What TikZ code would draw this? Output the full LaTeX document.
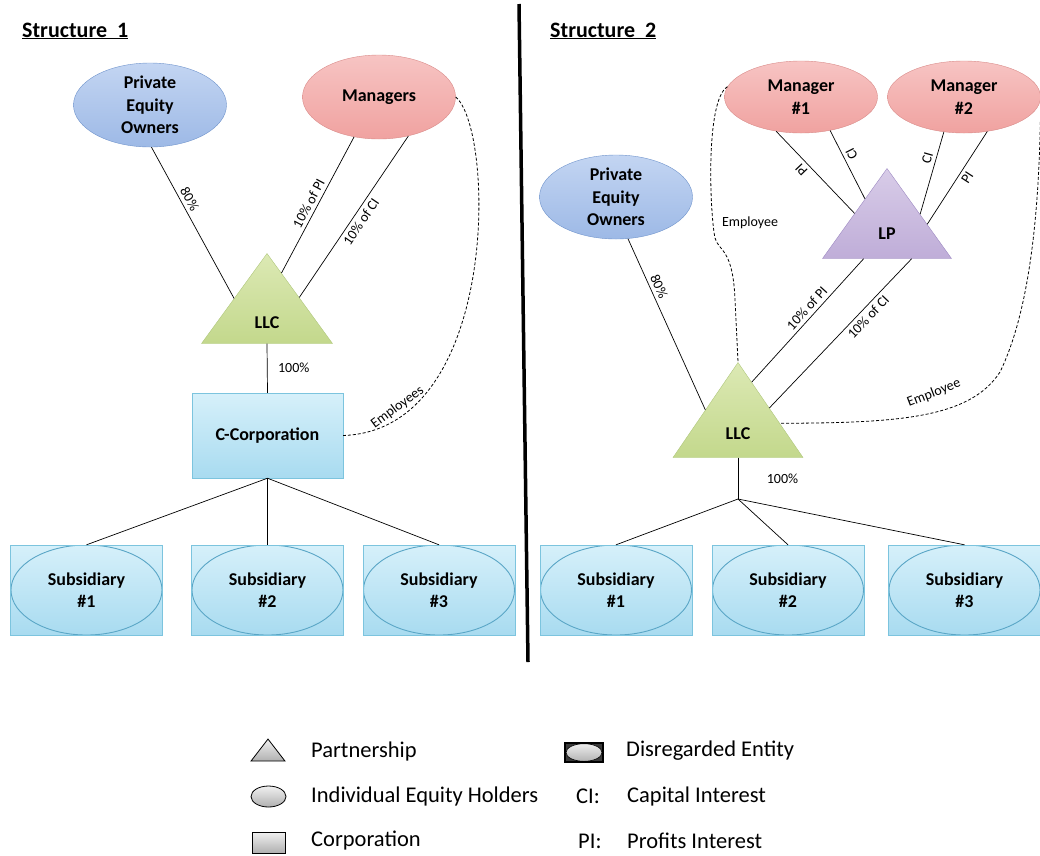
\documentclass[tikz,border=0pt]{standalone}
\usepackage{fontspec}
\setmainfont{Carlito}
\usetikzlibrary{shapes.geometric,positioning,calc}
\definecolor{peoTop}{HTML}{C3D5F2}
\definecolor{peoBot}{HTML}{9DB9E6}
\definecolor{peoLine}{HTML}{7094CC}
\definecolor{mgrTop}{HTML}{F7C4C3}
\definecolor{mgrBot}{HTML}{F0A2A0}
\definecolor{mgrLine}{HTML}{D98C8A}
\definecolor{llcTop}{HTML}{DCE9B4}
\definecolor{llcBot}{HTML}{C3D88C}
\definecolor{llcLine}{HTML}{AFC77C}
\definecolor{lpTop}{HTML}{D8CCE8}
\definecolor{lpBot}{HTML}{BFADD8}
\definecolor{lpLine}{HTML}{9D89C2}
\definecolor{corpTop}{HTML}{D6F0FA}
\definecolor{corpBot}{HTML}{A8DBF0}
\definecolor{corpLine}{HTML}{7CC4DE}
\definecolor{subLine}{HTML}{5AA6C6}
\definecolor{keyTop}{HTML}{F0F0F0}
\definecolor{keyBot}{HTML}{B0B0B0}
\definecolor{keyDark}{HTML}{3A3A3A}
\tikzset{
  holder/.style={ellipse, draw, minimum width=153pt, minimum height=84pt, inner sep=0pt,
    align=center, font=\bfseries\fontsize{18}{22.5}\selectfont},
  peo/.style={holder, draw=peoLine, top color=peoTop, bottom color=peoBot},
  mgr/.style={holder, draw=mgrLine, top color=mgrTop, bottom color=mgrBot},
  partner/.style={isosceles triangle, isosceles triangle stretches, shape border rotate=90,
    minimum width=131pt, minimum height=90pt, inner sep=0pt},
  llc/.style={partner, draw=llcLine, top color=llcTop, bottom color=llcBot},
  lpfill/.style={partner, draw=lpLine, top color=lpTop, bottom color=lpBot},
  partname/.style={font=\bfseries\fontsize{18}{22}\selectfont, inner sep=0pt},
  corp/.style={rectangle, draw=corpLine, top color=corpTop, bottom color=corpBot,
    minimum width=151pt, minimum height=85pt, inner sep=0pt, align=center,
    font=\bfseries\fontsize{18}{22.5}\selectfont},
  disregarded/.style={corp, minimum width=152pt, minimum height=90pt,
    path picture={\draw[subLine, line width=0.9pt] (path picture bounding box.center) ellipse (75.5pt and 45pt);}},
  link/.style={line width=0.7pt},
  employ/.style={line width=0.8pt, dashed, dash pattern=on 3pt off 2pt},
  lbl/.style={font=\fontsize{14}{16}\selectfont, inner sep=3.5pt},
  title/.style={font=\bfseries\fontsize{22}{25}\selectfont, inner sep=0pt, anchor=base west},
  keytext/.style={font=\fontsize{22.5}{26}\selectfont, inner sep=0pt, anchor=west},
  keyshape/.style={draw=black, line width=0.8pt, top color=keyTop, bottom color=keyBot, inner sep=0pt},
}

\begin{document}
\begin{tikzpicture}[x=1pt, y=-1pt]
  \useasboundingbox (0,0) rectangle (1040,855);

  % headings and divider
  \node[title] (titleA) at (22,37) {\underline{Structure\ \ 1}};
  \node[title] (titleB) at (550,37) {\underline{Structure\ \ 2}};
  \coordinate (divtop) at (519,4);
  \coordinate (divbot) at (528,662);
  \draw[line width=3.5pt] (divtop) -- (divbot);

  % Structure 1
  \node[peo] (peoA) at (150,105) {Private\\Equity\\Owners};
  \node[mgr] (mgrA) at (379,97) {Managers};
  \node[llc, anchor=apex] (llcA) at (267,253) {};
  \node[partname] (llcAname) at ($(llcA.apex)!0.77!(llcA.lower side)$) {LLC};
  \node[corp] (ccorp) at (267.5,435.5) {C-Corporation};
  \node[disregarded] (subA1) at (86.5,590) {Subsidiary\\\#1};
  \node[disregarded] (subA2) at (267.5,590) {Subsidiary\\\#2};
  \node[disregarded] (subA3) at (439,590) {Subsidiary\\\#3};

  \draw[link] (peoA.-88) -- node[lbl, sloped, above, pos=.37] {80\%} ($(llcA.apex)!.5!(llcA.left corner)$);
  \draw[link] (mgrA.-122) -- node[lbl, sloped, above, pos=.52] {10\% of PI} ($(llcA.apex)!.22!(llcA.right corner)$);
  \draw[link] (mgrA.-53) -- node[lbl, sloped, below, pos=.5] {10\% of CI} ($(llcA.apex)!.49!(llcA.right corner)$);
  \draw[link] (llcA.lower side) -- node[lbl, right=7pt] {100\%} (ccorp.north);
  \draw[employ] (mgrA.east) .. controls (495,130) and (500,430) .. node[lbl, sloped, above, pos=.85] {Employees} (ccorp.east);
  \foreach \s in {subA1,subA2,subA3}
    \draw[link] (ccorp.south) -- (\s.north);

  % Structure 2
  \node[peo] (peoB) at (616,197) {Private\\Equity\\Owners};
  \node[mgr, minimum height=72pt] (mgrB1) at (801,97) {Manager\\\#1};
  \node[mgr, minimum height=72pt] (mgrB2) at (964,97) {Manager\\\#2};
  \node[lpfill, minimum width=129pt, anchor=apex] (lp) at (887,168) {};
  \node[partname] (lpname) at ($(lp.apex)!0.72!(lp.lower side)$) {LP};
  \node[llc, minimum height=95pt, minimum width=130pt, anchor=apex] (llcB) at (738,362) {};
  \node[partname] (llcBname) at ($(llcB.apex)!0.75!(llcB.lower side)$) {LLC};
  \coordinate (hubB) at (738,499);
  \node[disregarded] (subB1) at (616,590) {Subsidiary\\\#1};
  \node[disregarded] (subB2) at (788,590) {Subsidiary\\\#2};
  \node[disregarded] (subB3) at (964.5,590) {Subsidiary\\\#3};

  \draw[link] ($(lp.apex)!.5!(lp.left corner)$) -- node[lbl, sloped, allow upside down, above, pos=.6] {PI} (mgrB1.-126);
  \draw[link] ($(lp.apex)!.34!(lp.left corner)$) -- node[lbl, sloped, allow upside down, below, pos=.6] {CI} (mgrB1.-49);
  \draw[link] (mgrB2.-120) -- node[lbl, sloped, above, pos=.35] {CI} ($(lp.apex)!.51!(lp.right corner)$);
  \draw[link] (mgrB2.-56) -- node[lbl, sloped, below, pos=.45] {PI} ($(lp.apex)!.62!(lp.right corner)$);
  \draw[link] (peoB.-74) -- node[lbl, sloped, above, pos=.3] {80\%} ($(llcB.apex)!.5!(llcB.left corner)$);
  \draw[link] ($(lp.left corner)!.32!(lp.right corner)$) -- node[lbl, sloped, above, pos=.45] {10\% of PI} ($(llcB.apex)!.21!(llcB.right corner)$);
  \draw[link] ($(lp.left corner)!.69!(lp.right corner)$) -- node[lbl, sloped, below, pos=.35] {10\% of CI} ($(llcB.apex)!.48!(llcB.right corner)$);
  \draw[employ] (mgrB1.172) .. controls (705,100) and (710,215) .. (715,238)
    .. controls (719,252) and (733,248) .. (735,300) -- (llcB.apex);
  \node[lbl] (empB1) at (750,223) {Employee};
  \draw[employ] (mgrB2.east) .. controls (1040,180) and (1035,300) .. (1000,372)
    .. controls (970,418) and (900,423) .. ($(llcB.apex)!.64!(llcB.right corner)$);
  \node[lbl, rotate=21] (empB2) at (934,393) {Employee};
  \draw[link] (llcB.lower side) -- node[lbl, right=25pt] {100\%} (hubB);
  \foreach \s in {subB1,subB2,subB3}
    \draw[link] (hubB) -- (\s.north);

  % key
  \node[keyshape, isosceles triangle, isosceles triangle stretches, shape border rotate=90,
    minimum width=34pt, minimum height=22pt, anchor=apex] (keyTri) at (268,738) {};
  \node[keyshape, ellipse, minimum width=35pt, minimum height=21pt] (keyEll) at (268.5,796.5) {};
  \node[keyshape, rectangle, minimum width=33pt, minimum height=21pt] (keyRect) at (268.5,842.5) {};
  \node[rectangle, draw=black, fill=keyDark, line width=1.3pt, minimum width=38pt, minimum height=19pt, inner sep=0pt,
    path picture={\shade[top color=keyTop, bottom color=keyBot, draw=black, line width=0.6pt] (path picture bounding box.center) ellipse (18pt and 8.8pt);}] (keyDis) at (584,752.5) {};
  \node[keytext] (keyTriText) at (311,751) {Partnership};
  \node[keytext] (keyEllText) at (311,796) {Individual Equity Holders};
  \node[keytext] (keyRectText) at (311,841) {Corporation};
  \node[keytext] (keyDisText) at (626,751) {Disregarded Entity};
  \node[keytext] (keyCI) at (576,796) {CI:};
  \node[keytext] (keyCIText) at (627,796) {Capital Interest};
  \node[keytext] (keyPI) at (578,841) {PI:};
  \node[keytext] (keyPIText) at (627,841) {Profits Interest};
\end{tikzpicture}
\end{document}
